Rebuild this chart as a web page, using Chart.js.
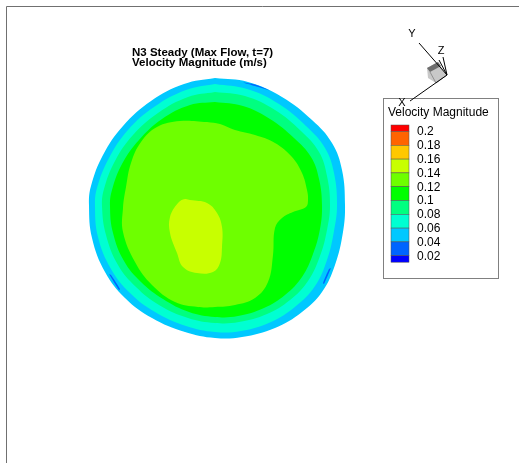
<!DOCTYPE html>
<html>
<head>
<meta charset="utf-8">
<script src="https://cdn.jsdelivr.net/npm/chart.js@4.4.1/dist/chart.umd.min.js"></script>
<style>
    html, body { margin: 0; padding: 0; background: #ffffff; }
    #wrap { width: 519px; height: 463px; }
</style>
</head>
<body>
<div id="wrap"><canvas id="contourChart" width="519" height="463"></canvas></div>
<script>
// Colour bar: tick labels (top to bottom) and band colours (top band > 0.2 ... bottom band < 0.02)
const levelTicks = ['0.2', '0.18', '0.16', '0.14', '0.12', '0.1', '0.08', '0.06', '0.04', '0.02'];
const levelColors = ['#ff0000', '#ff6400', '#ffc800', '#c8ff00', '#6eff00', '#00ff00',
                     '#00ff80', '#00ffd2', '#00c8ff', '#0064ff', '#0000ff'];

// Contour boundaries of the section, in mm from the section centre [x, y]
const wallEdge = [[0, 13.0], [3.3, 12.6], [6.7, 11.1], [9.7, 8.8], [11.7, 6.5], [12.7, 3.8], [13.0, 0.3],
    [12.8, -2.4], [12.0, -5.7], [10.7, -8.4], [8.7, -10.4], [6.0, -12.0], [2.7, -12.9], [0, -13.0],
    [-3.0, -12.4], [-6.3, -11.0], [-9.0, -9.0], [-11.0, -6.4], [-12.3, -3.0], [-12.6, 0.3], [-12.4, 2.2],
    [-11.2, 5.3], [-9.2, 8.2], [-6.4, 10.7], [-3.1, 12.4]];
const level004a = [[2.6, 12.6], [4.0, 12.35], [5.5, 11.75], [4.0, 12.2]];
const level004b = [[-10.6, -6.6], [-9.6, -8.2], [-9.5, -8.1], [-10.4, -6.7]];
const level004c = [[11.6, -6.0], [10.9, -7.6], [10.8, -7.5], [11.4, -6.1]];
const level006 = [[0, 12.4], [3.2, 11.9], [6.4, 10.4], [9.1, 8.2], [11.0, 6.0], [11.9, 3.5], [12.2, 0.3],
    [11.9, -2.3], [11.2, -5.2], [10.0, -7.8], [8.1, -9.8], [5.6, -11.4], [2.6, -12.3], [0, -12.4],
    [-2.9, -11.8], [-6.0, -10.4], [-8.5, -8.5], [-10.4, -6.1], [-11.7, -2.9], [-12.0, 0.2], [-11.8, 2.0],
    [-10.6, 5.0], [-8.7, 7.8], [-6.1, 10.1], [-2.9, 11.8]];
const level008 = [[0, 11.6], [3.0, 11.2], [6.0, 9.8], [8.6, 7.7], [10.4, 5.6], [11.2, 3.2], [11.5, 0.3],
    [11.2, -2.2], [10.5, -4.8], [9.3, -7.3], [7.5, -9.2], [5.2, -10.6], [2.4, -11.4], [0, -11.5],
    [-2.7, -11.0], [-5.6, -9.7], [-7.9, -7.9], [-9.7, -5.7], [-10.9, -2.7], [-11.3, 0.2], [-11.1, 1.9],
    [-10.0, 4.7], [-8.2, 7.3], [-5.7, 9.5], [-2.7, 11.1]];
const level010 = [[0, 10.6], [2.8, 10.2], [5.5, 8.9], [7.9, 7.0], [9.6, 5.1], [10.4, 2.9], [10.7, 0.3],
    [10.5, -2.1], [9.8, -4.6], [8.7, -6.9], [7.0, -8.7], [4.9, -10.0], [2.3, -10.8], [0, -10.9],
    [-2.6, -10.4], [-5.2, -9.1], [-7.4, -7.4], [-9.1, -5.3], [-10.2, -2.5], [-10.5, 0.2], [-10.3, 1.8],
    [-9.3, 4.4], [-7.6, 6.8], [-5.3, 8.9], [-2.5, 10.3]];
const level012 = [[-0.8, 8.6], [0.5, 8.4], [2.0, 7.8], [4.0, 7.3], [6.0, 6.5], [7.7, 5.1], [8.7, 3.5],
    [9.2, 1.8], [9.3, 0.8], [9.1, 0.1], [7.8, -0.4], [6.7, -1.0], [6.0, -2.0], [5.8, -4.7], [5.3, -7.4],
    [4.0, -9.0], [2.0, -9.7], [0, -9.9], [-1.7, -9.9], [-4.0, -9.4], [-6.3, -7.7], [-8.0, -5.4],
    [-9.2, -2.4], [-9.2, 0.0], [-8.9, 2.1], [-8.4, 4.5], [-7.4, 6.6], [-5.8, 8.1], [-3.5, 8.7]];
const level014 = [[-2.5, 0.8], [-0.8, 0.5], [0.2, -0.5], [0.7, -1.9], [0.7, -3.9], [0.5, -5.5], [-0.2, -6.4],
    [-1.8, -6.5], [-3.2, -5.9], [-3.8, -4.5], [-4.5, -2.5], [-4.5, -0.9], [-3.7, 0.5], [-3.0, 0.9]];

const contours = [wallEdge, level004a, level004b, level004c, level006, level008, level010, level012, level014];
const contourColors = ['#00c8ff', '#0064ff', '#0064ff', '#0064ff', '#00ffd2', '#00ff80', '#00ff00', '#6eff00', '#c8ff00'];

function toPoints(arr) {
    const pts = arr.map(p => ({ x: p[0], y: p[1] }));
    pts.push({ x: arr[0][0], y: arr[0][1] });
    return pts;
}

// Frame, title, colour bar and axis triad
const decorPlugin = {
    id: 'decor',
    afterDraw(chart) {
        const c = chart.ctx;
        c.save();
        c.strokeStyle = '#707070';
        c.lineWidth = 1;
        c.beginPath();
        c.moveTo(6.5, 463);
        c.lineTo(6.5, 6.5);
        c.lineTo(519, 6.5);
        c.stroke();

        c.fillStyle = '#000';
        c.font = 'bold 11.5px "Liberation Sans", Arial, sans-serif';
        c.textBaseline = 'alphabetic';
        c.fillText('N3 Steady (Max Flow, t=7)', 132, 56);
        c.fillText('Velocity Magnitude (m/s)', 132, 66);

        // legend box
        c.strokeStyle = '#808080';
        c.strokeRect(383.5, 98.5, 115, 180);
        c.font = '12px "Liberation Sans", Arial, sans-serif';
        c.textBaseline = 'middle';
        c.fillText('Velocity Magnitude', 388, 113);
        const top = 125, step = 13.8, half = 6.5;
        let y = top;
        levelColors.forEach((col, i) => {
            const h = (i === 0 || i === levelColors.length - 1) ? half : step;
            c.fillStyle = col;
            c.fillRect(391, y, 18, h);
            c.strokeStyle = '#505050';
            c.lineWidth = 0.5;
            c.strokeRect(391, y, 18, h);
            y += h;
        });
        c.fillStyle = '#000';
        levelTicks.forEach((t, i) => {
            c.fillText(t, 417, top + half + i * step + 0.5);
        });

        // axis triad
        c.strokeStyle = '#000';
        c.lineWidth = 1;
        c.fillStyle = '#c8c8c8';
        c.beginPath();
        c.moveTo(427, 68); c.lineTo(438, 62); c.lineTo(447, 75); c.lineTo(436, 83); c.lineTo(428, 78);
        c.closePath();
        c.fill();
        c.fillStyle = '#6e6e6e';
        c.beginPath();
        c.moveTo(427, 68); c.lineTo(438, 62); c.lineTo(441, 66); c.lineTo(430, 72);
        c.closePath();
        c.fill();
        c.strokeStyle = '#909090';
        c.beginPath();
        c.moveTo(430, 72); c.lineTo(436, 83); c.lineTo(447, 75);
        c.stroke();
        c.strokeStyle = '#000';
        c.beginPath();
        c.moveTo(419, 43); c.lineTo(447, 75);
        c.moveTo(443, 57); c.lineTo(447, 75);
        c.moveTo(439, 60); c.lineTo(447, 75);
        c.moveTo(447, 75); c.lineTo(410, 101);
        c.stroke();
        c.fillStyle = '#000';
        c.font = '11px "Liberation Sans", Arial, sans-serif';
        c.textAlign = 'center';
        c.fillText('Y', 412, 34);
        c.fillText('Z', 441, 51);
        c.fillText('X', 402, 103);
        c.restore();
    }
};

const chart = new Chart(document.getElementById('contourChart'), {
    type: 'scatter',
    data: {
        datasets: contours.map((arr, i) => ({
            data: toPoints(arr),
            showLine: true,
            tension: arr.length < 6 ? 0.2 : 0.4,
            fill: 'shape',
            backgroundColor: contourColors[i],
            borderColor: contourColors[i],
            borderWidth: 0,
            pointRadius: 0,
            order: contours.length - i
        }))
    },
    options: {
        responsive: false,
        animation: false,
        layout: { padding: 0 },
        scales: {
            x: { type: 'linear', min: -21.5, max: 30.4, display: false },
            y: { type: 'linear', min: -25.5, max: 20.8, display: false }
        },
        plugins: {
            legend: { display: false },
            tooltip: { enabled: false }
        }
    },
    plugins: [decorPlugin]
});
</script>
</body>
</html>
